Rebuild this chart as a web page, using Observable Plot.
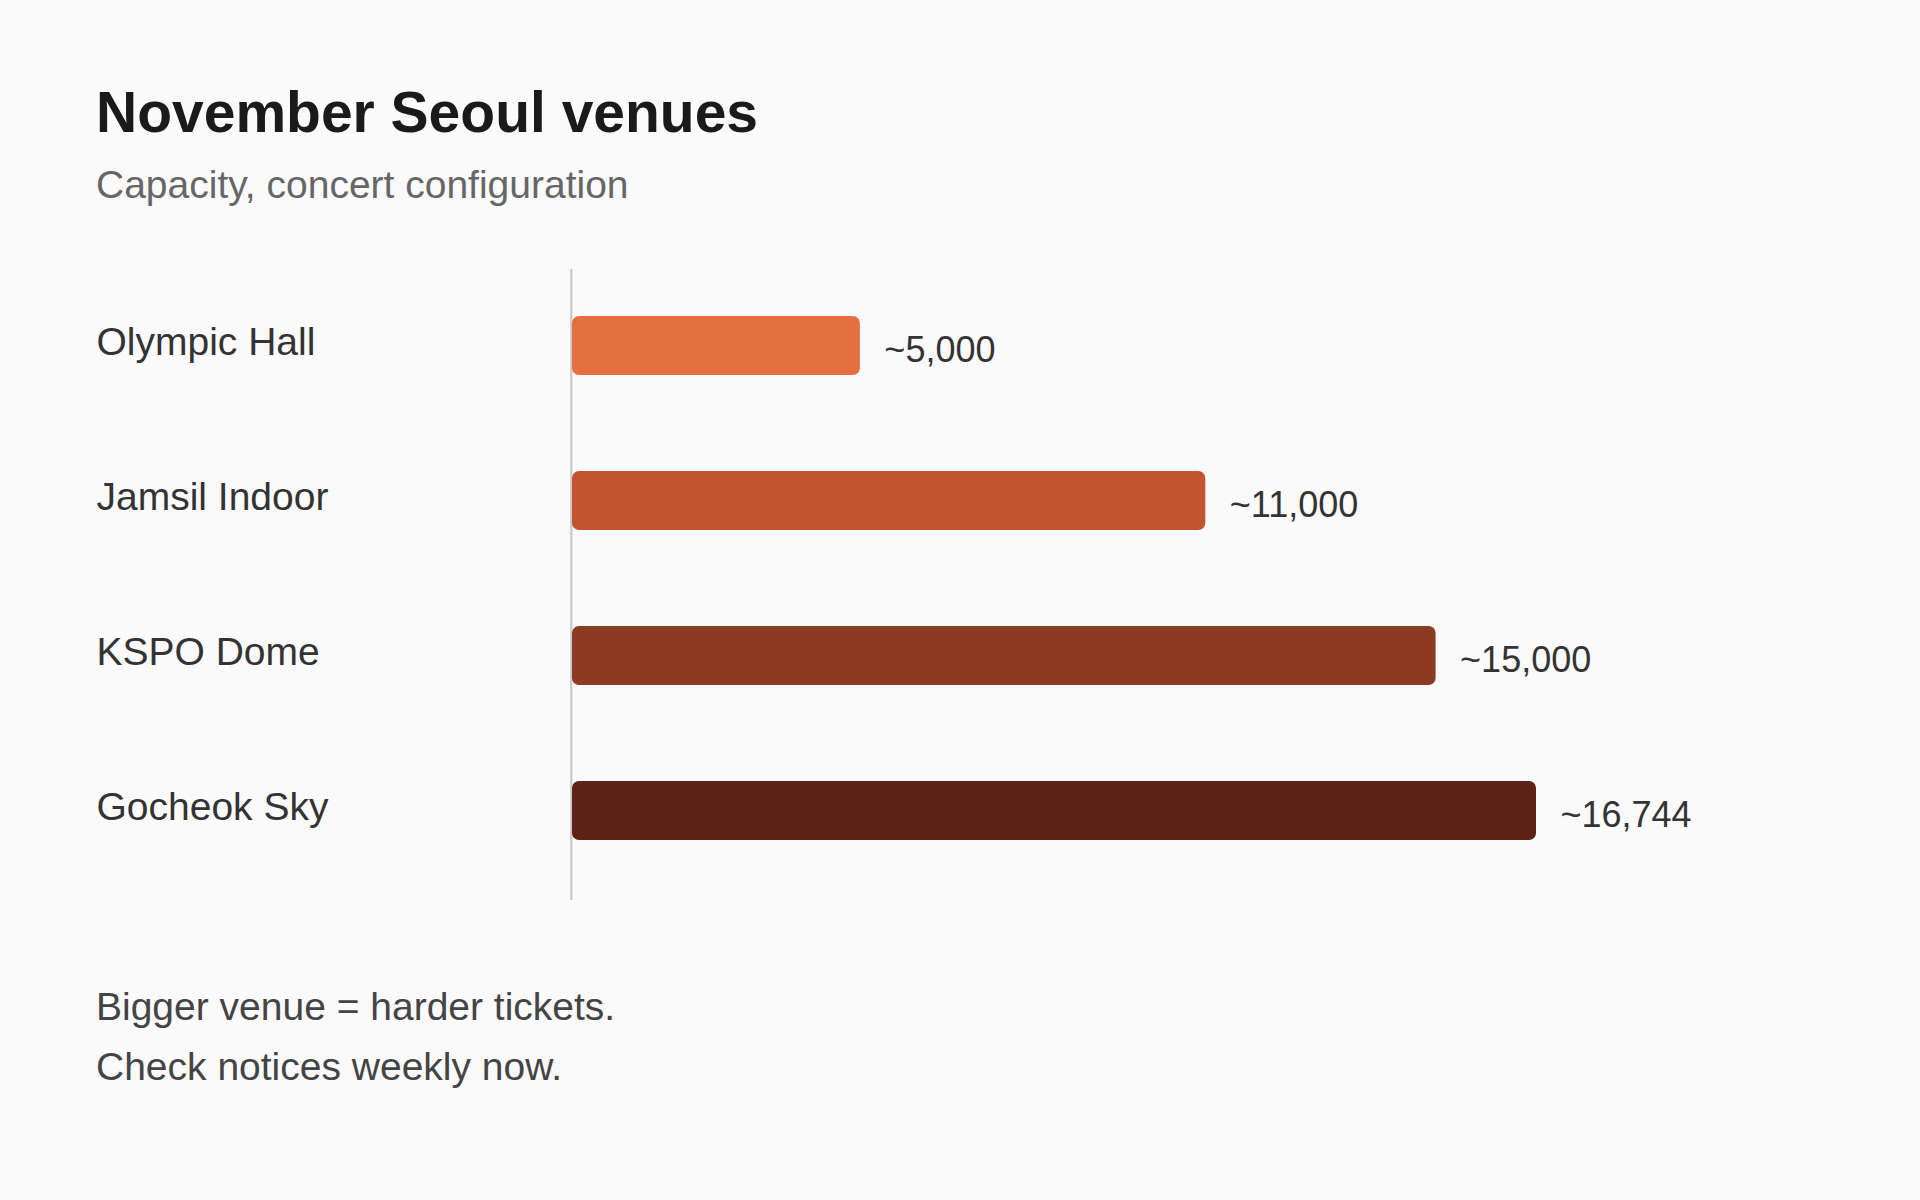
<!DOCTYPE html>
<html>
<head>
<meta charset="utf-8">
<script src="https://cdn.jsdelivr.net/npm/d3@7"></script>
<script src="https://cdn.jsdelivr.net/npm/@observablehq/plot@0.6"></script>
<style>
  html, body { margin: 0; padding: 0; }
  body {
    width: 1920px; height: 1200px; position: relative; overflow: hidden;
    background: #fafafa;
    font-family: "Liberation Sans", Arial, Helvetica, sans-serif;
  }
  #title {
    position: absolute; left: 96px; top: 83.5px;
    font-size: 57px; font-weight: bold; line-height: 1; color: #1a1a1a;
    white-space: nowrap;
  }
  #subtitle {
    position: absolute; left: 96px; top: 165.3px;
    font-size: 39px; line-height: 1; color: #666;
    white-space: nowrap;
  }
  #chart { position: absolute; left: 0; top: 269px; }
  #footer {
    position: absolute; left: 96px; top: 976.5px;
    font-size: 39px; line-height: 60px; color: #444;
  }
</style>
</head>
<body>
<div id="title">November Seoul venues</div>
<div id="subtitle">Capacity, concert configuration</div>
<div id="chart"></div>
<div id="footer"><div>Bigger venue = harder tickets.</div><div>Check notices weekly now.</div></div>
<script>
const venues = ["Olympic Hall", "Jamsil Indoor", "KSPO Dome", "Gocheok Sky"];
const capacities = [5000, 11000, 15000, 16744];
const barColors = ["#E4703F", "#C2552F", "#8C3A22", "#5C2215"];

const data = venues.map((v, i) => ({venue: v, capacity: capacities[i]}));
const fmt = d3.format(",");

const chart = Plot.plot({
  width: 1920,
  height: 631,
  marginTop: 0,
  marginBottom: 0,
  marginLeft: 572,
  marginRight: 384,
  style: {
    fontFamily: '"Liberation Sans", Arial, Helvetica, sans-serif',
    background: "transparent",
    overflow: "visible"
  },
  x: {domain: [0, 16744], axis: null},
  y: {type: "band", domain: venues, range: [0, 618], paddingInner: 0.621, paddingOuter: 0.295, axis: null},
  color: {domain: venues, range: barColors},
  marks: [
    Plot.ruleX([0], {stroke: "#c8c8c8", strokeWidth: 2.2, dx: -1.2}),
    Plot.barX(data, {x: "capacity", y: "venue", fill: "venue", rx: 7, ry: 7}),
    Plot.text(data, {
      y: "venue", text: "venue", frameAnchor: "left", textAnchor: "start",
      dx: 96 - 572, dy: -3.3, fontSize: 39, fill: "#333"
    }),
    Plot.text(data, {
      x: "capacity", y: "venue", text: d => "~" + fmt(d.capacity),
      textAnchor: "start", dx: 24, dy: 4.3, fontSize: 36, fill: "#333"
    })
  ]
});
document.getElementById("chart").appendChild(chart);
</script>
</body>
</html>
